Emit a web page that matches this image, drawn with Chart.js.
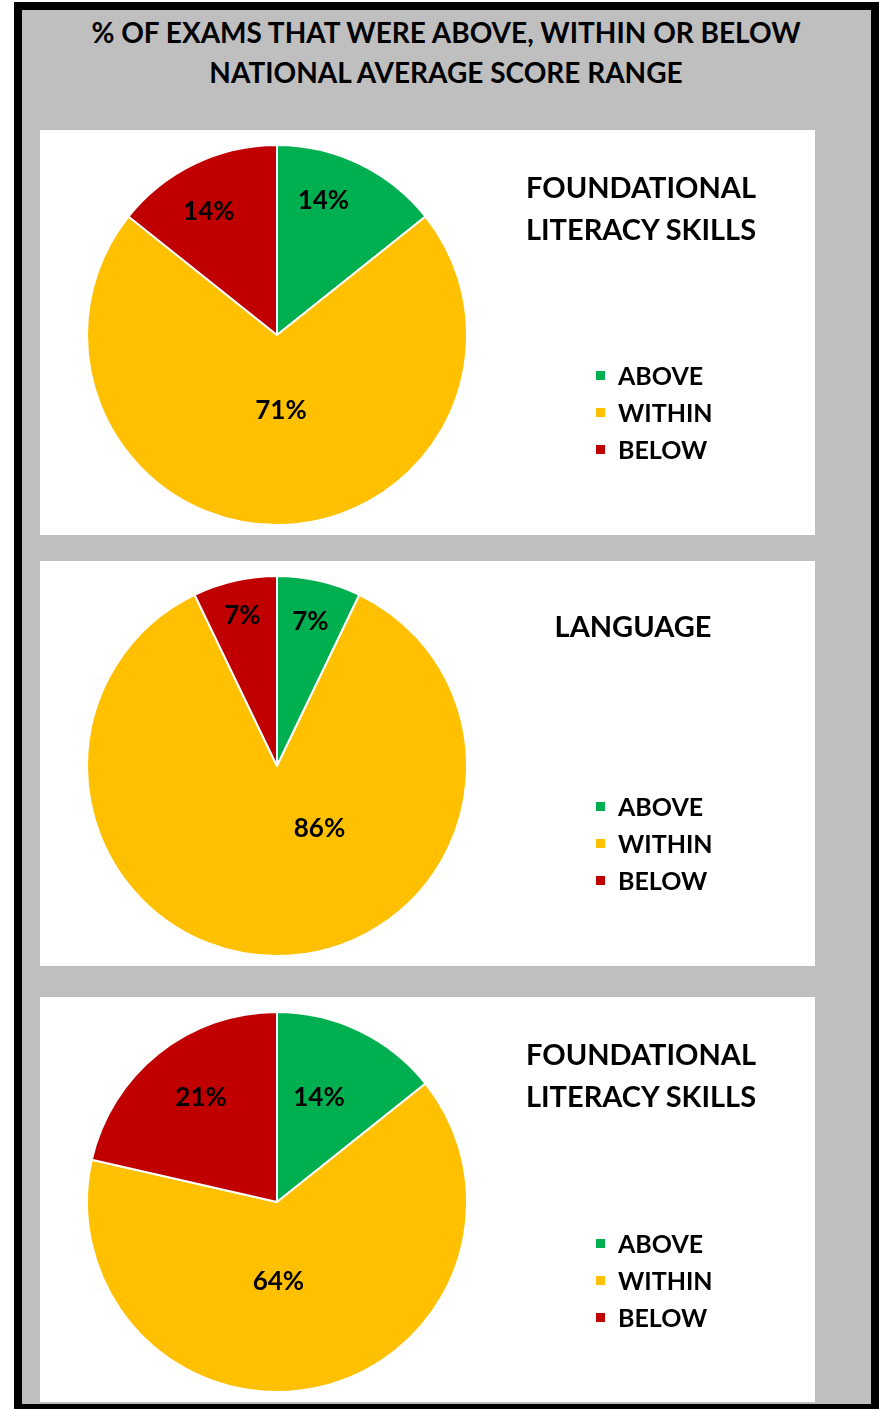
<!DOCTYPE html>
<html>
<head>
<meta charset="utf-8">
<script src="https://cdn.jsdelivr.net/npm/chart.js@4"></script>
<style>
  body { margin: 0; width: 882px; height: 1409px; overflow: hidden; background: #fff; font-family: Lato, "Open Sans", sans-serif; }
  #frame { position: absolute; left: 14px; top: 2px; width: 865px; height: 1410px; box-sizing: border-box;
           border: 8px solid #000; background: #bfbfbf; }
  #title { position: absolute; left: 10px; width: 872px; top: 12px; text-align: center; font-weight: 700;
           font-size: 28px; line-height: 40px; color: #000; }
  .panel { position: absolute; left: 40px; width: 775px; height: 405px; background: #fff; }
  .panel canvas { position: absolute; left: 0; top: 0; }
  .ptitle { position: absolute; width: 320px; text-align: center; font-weight: 700;
            font-size: 29px; line-height: 42px; color: #000; }
  .legend { position: absolute; left: 596px; font-weight: 700; font-size: 25px; line-height: 37px; color: #000; }
  .legend div { position: relative; padding-left: 22px; }
  .legend span { position: absolute; left: 0; top: 14px; width: 9px; height: 9px; }
</style>
</head>
<body>
<div id="frame"></div>
<div id="title">% OF EXAMS THAT WERE ABOVE, WITHIN OR BELOW<br>NATIONAL AVERAGE SCORE RANGE</div>

<div class="panel" style="top:130px"><canvas id="c1" width="775" height="405"></canvas></div>
<div class="panel" style="top:561px"><canvas id="c2" width="775" height="405"></canvas></div>
<div class="panel" style="top:997px"><canvas id="c3" width="775" height="405"></canvas></div>

<script>
const categories = ["ABOVE", "WITHIN", "BELOW"];
const colors = ["#00b050", "#ffc000", "#c00000"];

const chartTitles = [
  ["FOUNDATIONAL", "LITERACY SKILLS"],
  ["LANGUAGE"],
  ["FOUNDATIONAL", "LITERACY SKILLS"]
];

// shares in percent, labels shown rounded
const foundational1 = [14.29, 71.43, 14.29];
const language = [7.14, 85.71, 7.14];
const foundational2 = [14.29, 64.29, 21.43];
const foundational1Labels = ["14%", "71%", "14%"];
const languageLabels = ["7%", "86%", "7%"];
const foundational2Labels = ["14%", "64%", "21%"];

// label anchor per slice: [angle clockwise from top in degrees, fraction of radius]
const anchors = [
  [[19, 0.75], [177, 0.40], [331, 0.74]],
  [[13, 0.78], [146, 0.40], [347, 0.81]],
  [[22, 0.59], [179, 0.42], [324, 0.68]]
];

const sliceLabels = {
  id: "sliceLabels",
  afterDatasetsDraw(chart, args, opts) {
    const ctx = chart.ctx;
    const meta = chart.getDatasetMeta(0);
    ctx.save();
    ctx.font = "bold 26px Lato, 'Open Sans', sans-serif";
    ctx.fillStyle = "#000";
    ctx.textAlign = "center";
    ctx.textBaseline = "middle";
    meta.data.forEach((arc, i) => {
      const a = opts.anchors[i][0] * Math.PI / 180;
      const r = arc.outerRadius * opts.anchors[i][1];
      ctx.fillText(opts.labels[i], arc.x + Math.sin(a) * r, arc.y - Math.cos(a) * r);
    });
    ctx.restore();
  }
};

function makePie(id, values, labels, anch) {
  new Chart(document.getElementById(id), {
    type: "pie",
    data: {
      labels: categories,
      datasets: [{
        data: values,
        backgroundColor: colors,
        borderColor: "#fff",
        borderWidth: 2
      }]
    },
    options: {
      responsive: false,
      animation: false,
      layout: { padding: { left: 46, right: 347, top: 14, bottom: 9 } },
      plugins: {
        legend: { display: false },
        tooltip: { enabled: false },
        sliceLabels: { labels: labels, anchors: anch }
      }
    },
    plugins: [sliceLabels]
  });
}

makePie("c1", foundational1, foundational1Labels, anchors[0]);
makePie("c2", language, languageLabels, anchors[1]);
makePie("c3", foundational2, foundational2Labels, anchors[2]);

// panel titles and legends as page text
const panelTops = [130, 561, 997];
const titleTops = [36, 44, 36];
const titleCenters = [641, 633, 641];
const legendTops = [227, 227, 228];
panelTops.forEach((top, p) => {
  const t = document.createElement("div");
  t.className = "ptitle";
  t.style.top = (top + titleTops[p]) + "px";
  t.style.left = (titleCenters[p] - 160) + "px";
  t.innerHTML = chartTitles[p].join("<br>");
  document.body.appendChild(t);

  const lg = document.createElement("div");
  lg.className = "legend";
  lg.style.top = (top + legendTops[p]) + "px";
  categories.forEach((c, i) => {
    const row = document.createElement("div");
    row.innerHTML = '<span style="background:' + colors[i] + '"></span>' + c;
    lg.appendChild(row);
  });
  document.body.appendChild(lg);
});
</script>
</body>
</html>
